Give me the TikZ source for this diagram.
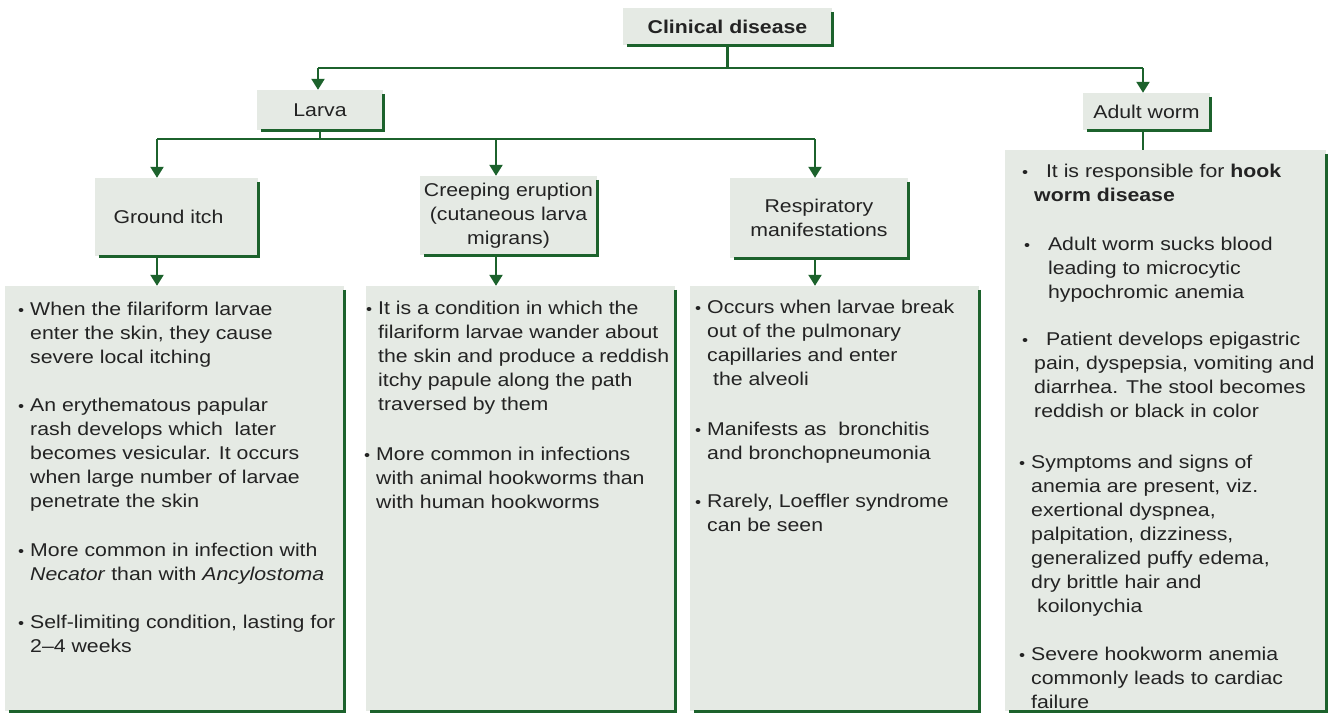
\documentclass[tikz,border=0pt]{standalone}
\usepackage{fontspec}
\setmainfont[FakeStretch=1.15]{Liberation Sans}
\usetikzlibrary{arrows.meta}
\definecolor{boxfill}{RGB}{229,234,228}
\definecolor{gline}{RGB}{28,98,44}
\definecolor{ink}{RGB}{35,35,35}
\tikzset{
  hbox/.style={fill=boxfill, inner sep=0pt, align=center, text=ink, font=\fontsize{18.5}{24}\selectfont},
  bigbox/.style={fill=boxfill, inner sep=0pt},
  edgeline/.style={draw=gline, line width=3pt},
  conn/.style={draw=gline, line width=2.2pt},
  arr/.style={conn, -{Triangle[width=13pt,length=11pt]}},
  item/.style={anchor=north west, inner sep=0pt, align=left, text=ink, font=\fontsize{18.5}{24}\selectfont},
}
\newcommand{\bul}{\strut\llap{{\fontsize{15}{15}\selectfont •}\hspace{6pt}}}
\newcommand{\gedge}[1]{\draw[edgeline] ([yshift=-4pt]#1.north east) -- (#1.south east) -- ([xshift=4pt]#1.south west);}
\begin{document}
\begin{tikzpicture}[x=1pt,y=-1pt]
\useasboundingbox (0,0) rectangle (1330,715);
\fill[white] (0,0) rectangle (1330,715);

% heading boxes
\node[hbox, minimum width=209pt, minimum height=37pt, font=\bfseries\fontsize{18.5}{24}\selectfont] (clin) at (727.5,26.5) {Clinical disease};
\node[hbox, minimum width=126pt, minimum height=40pt] (larva) at (320,110) {Larva};
\node[hbox, minimum width=127pt, minimum height=37pt] (adult) at (1146.5,111.5) {Adult worm};
\node[hbox, minimum width=163pt, minimum height=78pt] (ground) at (176.5,217) {Ground itch\hspace{16pt}};
\node[hbox, minimum width=177pt, minimum height=79pt] (creep) at (508.5,215.5) {Creeping eruption\\(cutaneous larva\\migrans)};
\node[hbox, minimum width=178pt, minimum height=80pt] (resp) at (819,218) {Respiratory\\manifestations};

% big boxes
\node[bigbox, minimum width=339pt, minimum height=425pt] (b1) at (174.5,498.5) {};
\node[bigbox, minimum width=309pt, minimum height=425pt] (b2) at (520.5,498.5) {};
\node[bigbox, minimum width=289pt, minimum height=425pt] (b3) at (834.5,498.5) {};
\node[bigbox, minimum width=321pt, minimum height=561pt] (b4) at (1165.5,430.5) {};

% green edges
\gedge{clin}
\gedge{larva}
\gedge{adult}
\gedge{ground}
\gedge{creep}
\gedge{resp}
\gedge{b1}
\gedge{b2}
\gedge{b3}
\gedge{b4}

% connectors
\coordinate (jL) at (318,68);
\coordinate (jR) at (1143,68);
\draw[conn] (clin.south) -- (clin.south |- jL);
\draw[conn] (jL) -- (jR);
\draw[arr] (jL) -- (jL |- larva.north);
\draw[arr] (jR) -- (jR |- adult.north);

\coordinate (kL) at (157,139);
\coordinate (kM) at (496,139);
\coordinate (kR) at (815,139);
\draw[conn] (larva.south) -- (larva.south |- kL);
\draw[conn] (kL) -- (kR);
\draw[arr] (kL) -- (kL |- ground.north);
\draw[arr] (kM) -- (kM |- creep.north);
\draw[arr] (kR) -- (kR |- resp.north);

\draw[arr] (ground.south -| kL) -- (kL |- b1.north);
\draw[arr] (creep.south -| kM) -- (kM |- b2.north);
\draw[arr] (resp.south -| kR) -- (kR |- b3.north);
\draw[conn] (adult.south -| jR) -- (jR |- b4.north);

% box 1 text
\node[item] (t1a) at (30,298.2) {\bul When the filariform larvae\\enter the skin, they cause\\severe local itching};
\node[item] (t1b) at (30,394.2) {\bul An erythematous papular\\rash develops which\ \ later\\becomes vesicular. It occurs\\when large number of larvae\\penetrate the skin};
\node[item] (t1c) at (30,539.2) {\bul More common in infection with\\\textit{Necator} than with \textit{Ancylostoma}};
\node[item] (t1d) at (30,611.2) {\bul Self-limiting condition, lasting for\\2–4 weeks};

% box 2 text
\node[item] (t2a) at (378,297.2) {\bul It is a condition in which the\\filariform larvae wander about\\the skin and produce a reddish\\itchy papule along the path\\traversed by them};
\node[item] (t2b) at (376,443.2) {\bul More common in infections\\with animal hookworms than\\with human hookworms};

% box 3 text
\node[item] (t3a) at (707,296.2) {\bul Occurs when larvae break\\out of the pulmonary\\capillaries and enter\\\ the alveoli};
\node[item] (t3b) at (707,418.2) {\bul Manifests as\ \ bronchitis\\and bronchopneumonia};
\node[item] (t3c) at (707,490.2) {\bul Rarely, Loeffler syndrome\\can be seen};

% box 4 text
\node[item] (t4a) at (1034,160.2) {\bul\ \ It is responsible for \textbf{hook}\\\textbf{worm disease}};
\node[item] (t4b) at (1036,233.2) {\bul\ \ Adult worm sucks blood\\\ \ leading to microcytic\\\ \ hypochromic anemia};
\node[item] (t4c) at (1034,328.2) {\bul\ \ Patient develops epigastric\\pain, dyspepsia, vomiting and\\diarrhea. The stool becomes\\reddish or black in color};
\node[item] (t4d) at (1031,451.2) {\bul Symptoms and signs of\\anemia are present, viz.\\exertional dyspnea,\\palpitation, dizziness,\\generalized puffy edema,\\dry brittle hair and\\\ koilonychia};
\node[item] (t4e) at (1031,643.2) {\bul Severe hookworm anemia\\commonly leads to cardiac\\failure};
\end{tikzpicture}
\end{document}
